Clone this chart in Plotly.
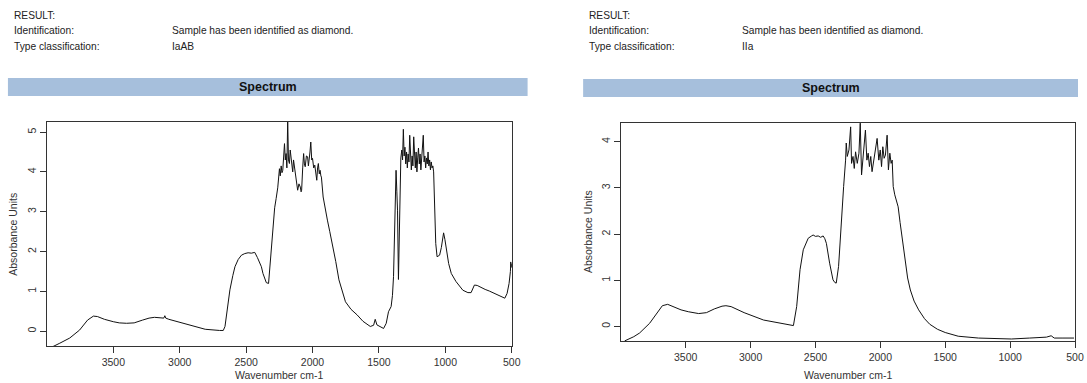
import plotly.graph_objects as go

W, H = 1087, 383

# ---------------- data: left sample (type IaAB) ----------------
wn_iaab = [3995, 3940, 3903, 3828, 3754, 3694, 3650, 3620, 3567, 3500, 3455, 3400, 3343, 3280, 3231,
           3190, 3157, 3120, 3112, 3105, 3082, 3007, 2900, 2808, 2700, 2672, 2659, 2640, 2622, 2600,
           2584, 2560, 2535, 2510, 2485, 2460, 2435, 2415, 2398, 2385, 2373, 2360, 2348, 2331, 2315,
           2298, 2285, 2274, 2262, 2249, 2243, 2236, 2230, 2224, 2218, 2211, 2205, 2199, 2193, 2187,
           2181, 2174, 2168, 2162, 2156, 2149, 2143, 2137, 2130, 2124, 2118, 2112, 2102, 2092, 2086,
           2082, 2074, 2067, 2061, 2055, 2046, 2037, 2031, 2025, 2019, 2013, 2006, 2000, 1991, 1983,
           1975, 1968, 1962, 1956, 1949, 1943, 1937, 1933, 1920, 1905, 1888, 1870, 1851, 1825, 1801,
           1775, 1752, 1710, 1664, 1620, 1590, 1565, 1540, 1528, 1515, 1490, 1465, 1445, 1428, 1408,
           1398, 1390, 1378, 1371, 1365, 1360, 1353, 1345, 1340, 1335, 1328, 1322, 1316, 1310, 1304,
           1298, 1292, 1286, 1280, 1274, 1268, 1262, 1256, 1250, 1244, 1238, 1232, 1226, 1220, 1214,
           1208, 1202, 1196, 1190, 1184, 1178, 1172, 1166, 1160, 1154, 1148, 1142, 1136, 1130, 1124,
           1118, 1112, 1106, 1100, 1094, 1088, 1080, 1072, 1062, 1043, 1030, 1013, 1003, 993, 975,
           955, 920, 868, 830, 806, 795, 781, 760, 744, 700, 669, 620, 552, 535, 520,
           510, 507, 504, 500]
abs_iaab = [-0.45, -0.37, -0.30, -0.17, 0.03, 0.28, 0.38, 0.37, 0.30, 0.24, 0.21, 0.20, 0.21, 0.28, 0.33,
            0.35, 0.34, 0.33, 0.39, 0.33, 0.30, 0.23, 0.13, 0.05, 0.02, 0.02, 0.12, 0.55, 1.04, 1.40,
            1.62, 1.80, 1.91, 1.95, 1.97, 1.96, 1.98, 1.85, 1.70, 1.62, 1.45, 1.30, 1.22, 1.20, 1.90,
            2.62, 3.10, 3.33, 3.60, 4.08, 3.90, 4.15, 3.98, 4.04, 4.40, 4.71, 4.30, 4.46, 4.10, 5.30,
            4.30, 4.21, 4.55, 4.38, 4.10, 4.00, 4.30, 4.13, 3.95, 3.79, 3.65, 3.54, 3.70, 3.62, 3.50,
            3.54, 4.10, 4.46, 4.20, 4.13, 4.40, 4.38, 4.15, 4.29, 4.50, 4.75, 4.30, 4.34, 4.10, 4.17,
            4.00, 3.79, 4.10, 4.21, 3.95, 4.04, 3.90, 3.87, 3.37, 3.05, 2.79, 2.50, 2.20, 1.75, 1.29,
            1.00, 0.74, 0.55, 0.41, 0.25, 0.17, 0.12, 0.15, 0.30, 0.16, 0.12, 0.07, 0.20, 0.49, 0.62,
            0.90, 1.37, 3.04, 4.04, 3.50, 3.04, 1.30, 3.00, 4.05, 4.35, 4.55, 4.30, 5.07, 4.40, 4.62,
            4.20, 4.50, 4.10, 4.45, 4.25, 4.92, 4.30, 4.05, 4.40, 4.15, 4.88, 4.35, 4.10, 4.50, 4.00,
            4.35, 4.60, 4.20, 4.45, 4.05, 4.30, 4.55, 4.92, 4.25, 4.40, 4.10, 4.35, 4.20, 4.50, 4.15,
            4.30, 4.05, 4.25, 4.10, 4.15, 4.00, 3.00, 2.20, 1.87, 1.91, 2.10, 2.47, 2.30, 2.04, 1.70,
            1.45, 1.25, 1.03, 0.97, 0.97, 1.05, 1.16, 1.15, 1.12, 1.05, 1.01, 0.93, 0.83, 0.95, 1.20,
            1.50, 1.74, 1.60, 1.70]

# ---------------- data: right sample (type IIa) ----------------
wn_iia = [3990, 3969, 3900, 3855, 3778, 3720, 3680, 3639, 3600, 3536, 3480, 3400, 3340, 3280, 3220,
          3190, 3150, 3050, 2900, 2780, 2670, 2645, 2619, 2594, 2556, 2530, 2518, 2500, 2479, 2460,
          2441, 2428, 2416, 2391, 2365, 2350, 2340, 2322, 2302, 2283, 2268, 2263, 2255, 2242, 2229,
          2222, 2211, 2201, 2191, 2178, 2165, 2155, 2145, 2135, 2125, 2115, 2104, 2094, 2084, 2074,
          2064, 2051, 2038, 2025, 2012, 2001, 1991, 1981, 1971, 1961, 1948, 1938, 1927, 1917, 1909,
          1901, 1889, 1878, 1863, 1848, 1833, 1807, 1790, 1769, 1740, 1705, 1660, 1620, 1560, 1500,
          1400, 1244, 1100, 990, 850, 720, 684, 660, 600, 508]
abs_iia = [-0.45, -0.31, -0.22, -0.14, 0.07, 0.30, 0.45, 0.48, 0.43, 0.36, 0.32, 0.28, 0.30, 0.38, 0.44,
           0.45, 0.43, 0.30, 0.14, 0.07, 0.02, 0.43, 1.23, 1.66, 1.91, 1.96, 1.98, 1.95, 1.96, 1.93,
           1.96, 1.90, 1.80, 1.37, 1.01, 0.95, 0.94, 1.30, 2.31, 3.03, 3.60, 3.97, 3.68, 3.82, 4.32,
           3.53, 3.68, 3.42, 3.78, 3.53, 3.75, 4.40, 3.28, 3.60, 3.82, 4.25, 3.60, 3.75, 3.46, 3.68,
           3.35, 3.60, 3.75, 4.07, 3.60, 3.82, 3.46, 3.89, 3.64, 3.71, 4.14, 3.39, 3.75, 3.53, 3.60,
           3.03, 2.85, 2.74, 2.59, 2.25, 1.95, 1.37, 1.05, 0.79, 0.55, 0.36, 0.17, 0.05, -0.06, -0.13,
           -0.21, -0.25, -0.27, -0.27, -0.25, -0.23, -0.20, -0.25, -0.25, -0.25]

x_ticks = [3500, 3000, 2500, 2000, 1500, 1000, 500]
y_ticks_left = [0, 1, 2, 3, 4, 5]
y_ticks_right = [0, 1, 2, 3, 4]

header_labels = ["RESULT:", "Identification:", "Type classification:"]
left_values = ["", "Sample has been identified as diamond.", "IaAB"]
right_values = ["", "Sample has been identified as diamond.", "IIa"]

FONT = "Liberation Sans, Arial, sans-serif"
TXT = "#333333"


def px(x):
    return x / W


def py(y):
    return 1 - y / H


fig = go.Figure()
fig.add_trace(go.Scatter(x=wn_iaab, y=abs_iaab, mode="lines", line=dict(color="#111111", width=1),
                         xaxis="x", yaxis="y", showlegend=False, hoverinfo="skip"))
fig.add_trace(go.Scatter(x=wn_iia, y=abs_iia, mode="lines", line=dict(color="#111111", width=1),
                         xaxis="x2", yaxis="y2", showlegend=False, hoverinfo="skip"))

common_axis = dict(showline=True, mirror=True, linecolor="#333333", linewidth=1, showgrid=False,
                   zeroline=False, ticks="outside", ticklen=6, tickcolor="#333333", tickwidth=1,
                   tickfont=dict(family=FONT, size=10.5, color=TXT))

# plot areas (page pixels)
L = dict(x0=47.3, x1=516, y0=121.7, y1=346)
R = dict(x0=626, x1=1084, y0=122.7, y1=341.3)

fig.update_layout(
    width=W, height=H, autosize=False,
    margin=dict(l=0, r=0, t=0, b=0),
    paper_bgcolor="white", plot_bgcolor="white",
    xaxis=dict(domain=[px(L["x0"]), px(L["x1"])], range=[4000, 500], tickvals=x_ticks,
               anchor="y", **common_axis),
    yaxis=dict(domain=[py(L["y1"]), py(L["y0"])], range=[-0.37, 5.26], tickvals=y_ticks_left,
               tickangle=-90, anchor="x", **common_axis),
    xaxis2=dict(domain=[px(R["x0"]), px(R["x1"])], range=[4000, 500], tickvals=x_ticks,
                anchor="y2", **common_axis),
    yaxis2=dict(domain=[py(R["y1"]), py(R["y0"])], range=[-0.32, 4.41], tickvals=y_ticks_right,
                tickangle=-90, anchor="x2", **common_axis),
)

annotations = []
shapes = []
# header text blocks
for (x_lab, x_val, vals) in [(12, 171, left_values), (592, 746, right_values)]:
    for i, lab in enumerate(header_labels):
        yy = 16 + 15 * i
        annotations.append(dict(x=px(x_lab), y=py(yy), xref="paper", yref="paper", text=lab,
                                showarrow=False, xanchor="left", yanchor="middle",
                                font=dict(family=FONT, size=10.2, color="#222222")))
        if vals[i]:
            annotations.append(dict(x=px(x_val), y=py(yy), xref="paper", yref="paper", text=vals[i],
                                    showarrow=False, xanchor="left", yanchor="middle",
                                    font=dict(family=FONT, size=10.2, color="#222222")))

# "Spectrum" bars
for (bx0, bx1, by0, by1) in [(8, 532, 78, 96), (588, 1087, 79, 97)]:
    shapes.append(dict(type="rect", xref="paper", yref="paper", x0=px(bx0), x1=px(bx1),
                       y0=py(by1), y1=py(by0), fillcolor="#a6bfdc", line=dict(width=0), layer="below"))
    annotations.append(dict(x=px((bx0 + bx1) / 2), y=py((by0 + by1) / 2), xref="paper",
                            yref="paper", text="<b>Spectrum</b>", showarrow=False, xanchor="center",
                            yanchor="middle", font=dict(family=FONT, size=12.5, color="#111111")))

# axis titles
for P, ytx in [(L, 13), (R, 593)]:
    annotations.append(dict(x=px(ytx), y=py((P["y0"] + P["y1"]) / 2), xref="paper", yref="paper",
                            text="Absorbance Units", textangle=-90, showarrow=False,
                            xanchor="center", yanchor="middle",
                            font=dict(family=FONT, size=10.5, color=TXT)))
    annotations.append(dict(x=px((P["x0"] + P["x1"]) / 2), y=py(375), xref="paper", yref="paper",
                            text="Wavenumber cm-1", showarrow=False, xanchor="center", yanchor="middle",
                            font=dict(family=FONT, size=10.5, color=TXT)))

fig.update_layout(annotations=annotations, shapes=shapes)
# remove the default 8px page margin so the figure fills the window exactly; hide the mode bar
fig.write_html("out.html", config={"displayModeBar": False},
               post_script="document.body.style.margin='0px';")
